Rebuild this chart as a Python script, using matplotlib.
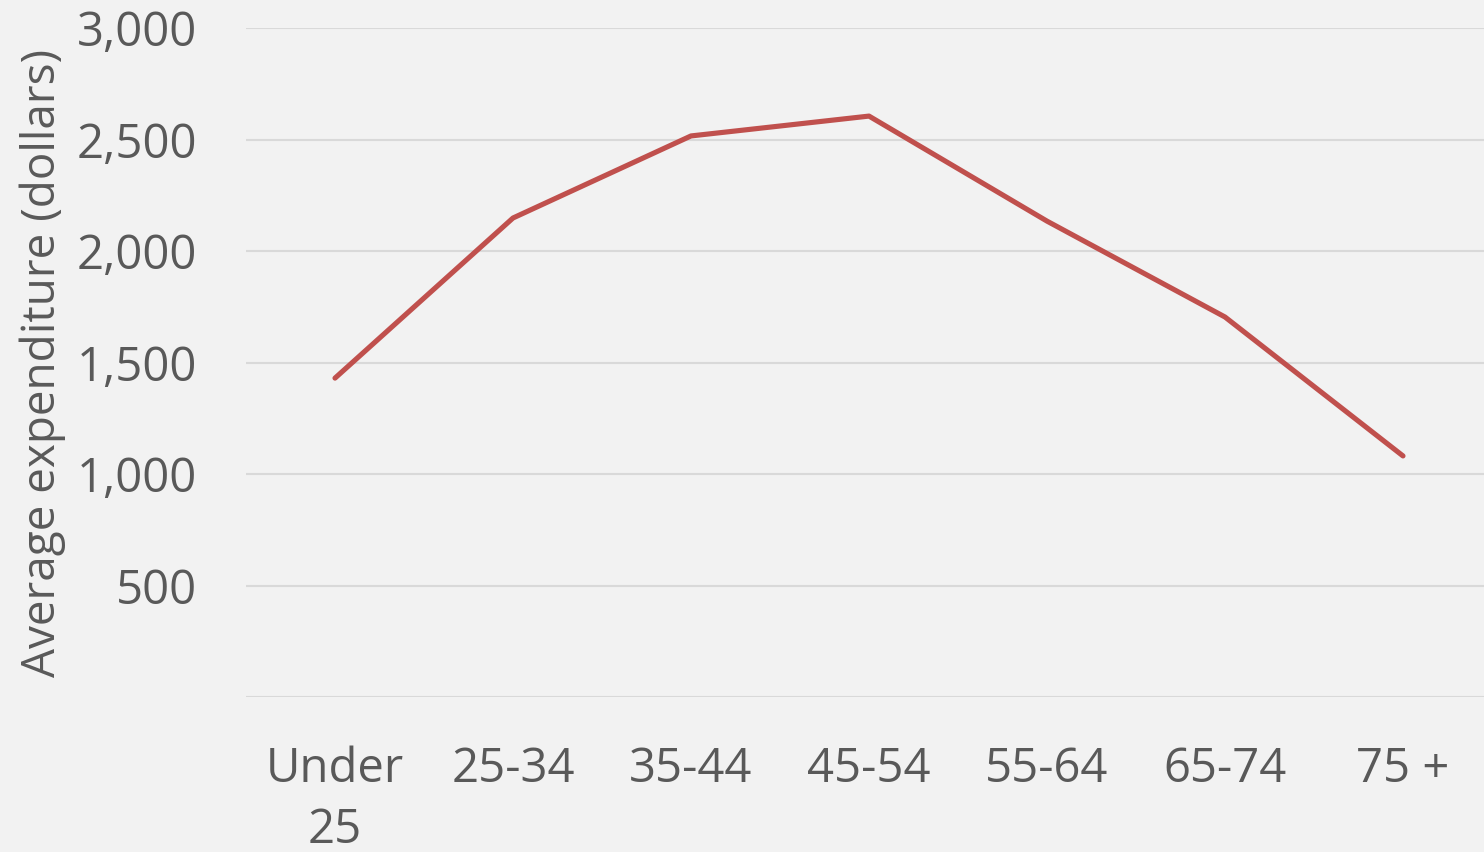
import matplotlib
matplotlib.use("Agg")
import matplotlib.pyplot as plt
from matplotlib.ticker import FuncFormatter

# grupos de edad y gasto promedio
edades = ["Under\n25", "25-34", "35-44", "45-54", "55-64", "65-74", "75 +"]
gasto = [1430, 2148, 2516, 2605, 2134, 1704, 1081]

plt.rcParams["font.family"] = ["Open Sans", "DejaVu Sans"]

fig = plt.figure(figsize=(14.84, 8.52), dpi=100)
fig.patch.set_facecolor("#F2F2F2")
ax = fig.add_axes([246 / 1484, 155 / 852, (1492 - 246) / 1484, (697 - 28) / 852])
ax.set_facecolor("#F2F2F2")

ax.plot(range(len(edades)), gasto, color="#C0504D", linewidth=3.7,
        solid_capstyle="round", solid_joinstyle="round")

ax.set_xlim(-0.5, len(edades) - 0.5)
ax.set_ylim(0, 3000)
ax.set_yticks([0, 500, 1000, 1500, 2000, 2500, 3000])
ax.yaxis.set_major_formatter(FuncFormatter(lambda v, p: "" if v == 0 else f"{int(v):,}"))
ax.set_xticks(range(len(edades)))
ax.set_xticklabels(edades, linespacing=1.38)

ax.grid(axis="y", color="#D9D9D9", linewidth=1.5)
ax.set_axisbelow(True)
for s in ax.spines.values():
    s.set_visible(False)
ax.tick_params(axis="both", length=0, labelsize=34, colors="#595959")
ax.tick_params(axis="x", pad=35)
ax.tick_params(axis="y", pad=35)

ax.set_ylabel("Average expenditure (dollars)", fontsize=33, color="#595959", labelpad=8)

fig.savefig("out.png", dpi=100, facecolor=fig.get_facecolor())
